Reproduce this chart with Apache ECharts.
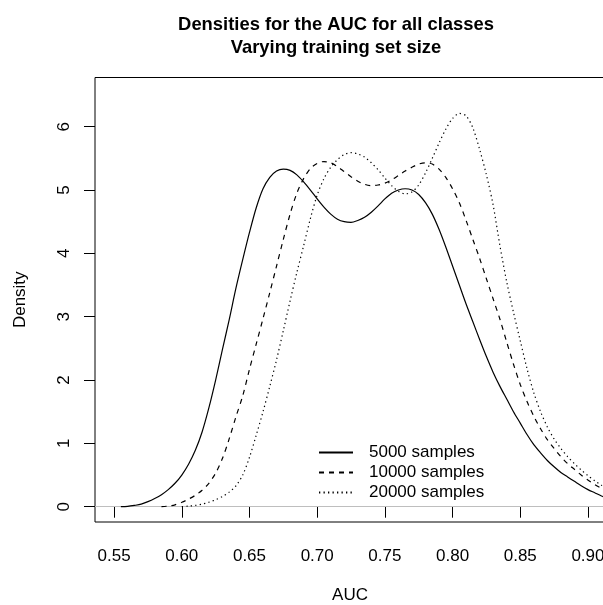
<!DOCTYPE html>
<html>
<head>
<meta charset="utf-8">
<script src="https://cdn.jsdelivr.net/npm/echarts@6/dist/echarts.min.js"></script>
<style>
html,body{margin:0;padding:0;background:#fff;}
#chart{width:603px;height:605px;}
</style>
</head>
<body>
<div id="chart"></div>
<script>
// ---- data ----
const titleText = "Densities for the AUC for all classes\nVarying training set size";
const seriesNames = ["5000 samples", "10000 samples", "20000 samples"];
const xTicks = [0.55, 0.60, 0.65, 0.70, 0.75, 0.80, 0.85, 0.90];
const xTickLabels = ["0.55", "0.60", "0.65", "0.70", "0.75", "0.80", "0.85", "0.90"];
const yTicks = [0, 1, 2, 3, 4, 5, 6];
const yTickLabels = ["0", "1", "2", "3", "4", "5", "6"];

const auc5000 = [0.555, 0.560, 0.565, 0.570, 0.575, 0.580, 0.585, 0.590, 0.595, 0.600,
  0.605, 0.610, 0.615, 0.620, 0.625, 0.630, 0.635, 0.640, 0.645, 0.650,
  0.655, 0.660, 0.665, 0.670, 0.675, 0.680, 0.685, 0.690, 0.695, 0.700,
  0.705, 0.710, 0.715, 0.720, 0.725, 0.730, 0.735, 0.740, 0.745, 0.750,
  0.755, 0.760, 0.765, 0.770, 0.775, 0.780, 0.785, 0.790, 0.795, 0.800,
  0.805, 0.810, 0.815, 0.820, 0.825, 0.830, 0.835, 0.840, 0.845, 0.850,
  0.855, 0.860, 0.865, 0.870, 0.875, 0.880, 0.885, 0.890, 0.895, 0.900,
  0.905, 0.910, 0.915];
const dens5000 = [0.00, 0.005, 0.02, 0.04, 0.08, 0.13, 0.19, 0.27, 0.37, 0.50,
  0.67, 0.89, 1.18, 1.56, 2.00, 2.48, 2.95, 3.45, 3.90, 4.33,
  4.72, 5.02, 5.20, 5.30, 5.33, 5.31, 5.24, 5.13, 5.00, 4.86,
  4.73, 4.62, 4.54, 4.50, 4.49, 4.52, 4.57, 4.65, 4.75, 4.86,
  4.95, 5.00, 5.02, 5.00, 4.93, 4.80, 4.62, 4.38, 4.10, 3.80,
  3.50, 3.20, 2.92, 2.64, 2.37, 2.12, 1.90, 1.70, 1.50, 1.32,
  1.14, 0.98, 0.85, 0.73, 0.63, 0.54, 0.47, 0.40, 0.33, 0.27,
  0.22, 0.17, 0.13];

const auc10000 = [0.585, 0.590, 0.595, 0.600, 0.605, 0.610, 0.615, 0.620, 0.625, 0.630,
  0.635, 0.640, 0.645, 0.650, 0.655, 0.660, 0.665, 0.670, 0.675, 0.680,
  0.685, 0.690, 0.695, 0.700, 0.705, 0.710, 0.715, 0.720, 0.725, 0.730,
  0.735, 0.740, 0.745, 0.750, 0.755, 0.760, 0.765, 0.770, 0.775, 0.780,
  0.785, 0.790, 0.795, 0.800, 0.805, 0.810, 0.815, 0.820, 0.825, 0.830,
  0.835, 0.840, 0.845, 0.850, 0.855, 0.860, 0.865, 0.870, 0.875, 0.880,
  0.885, 0.890, 0.895, 0.900, 0.905, 0.910, 0.915];
const dens10000 = [0.00, 0.01, 0.03, 0.07, 0.12, 0.18, 0.26, 0.37, 0.53, 0.76,
  1.07, 1.42, 1.75, 2.17, 2.57, 2.97, 3.38, 3.80, 4.22, 4.62,
  4.95, 5.18, 5.34, 5.42, 5.45, 5.43, 5.37, 5.29, 5.21, 5.14,
  5.09, 5.07, 5.08, 5.11, 5.16, 5.23, 5.30, 5.36, 5.41, 5.43,
  5.41, 5.33, 5.20, 5.02, 4.80, 4.52, 4.22, 3.92, 3.60, 3.28,
  2.96, 2.60, 2.25, 1.93, 1.66, 1.43, 1.23, 1.06, 0.92, 0.79,
  0.68, 0.59, 0.50, 0.42, 0.35, 0.29, 0.24];

const auc20000 = [0.600, 0.605, 0.610, 0.615, 0.620, 0.625, 0.630, 0.635, 0.640, 0.645,
  0.650, 0.655, 0.660, 0.665, 0.670, 0.675, 0.680, 0.685, 0.690, 0.695,
  0.700, 0.705, 0.710, 0.715, 0.720, 0.725, 0.730, 0.735, 0.740, 0.745,
  0.750, 0.755, 0.760, 0.765, 0.770, 0.775, 0.780, 0.785, 0.790, 0.795,
  0.800, 0.805, 0.810, 0.815, 0.820, 0.825, 0.830, 0.835, 0.840, 0.845,
  0.850, 0.855, 0.860, 0.865, 0.870, 0.875, 0.880, 0.885, 0.890, 0.895,
  0.900, 0.905, 0.910, 0.915];
const dens20000 = [0.00, 0.01, 0.02, 0.04, 0.07, 0.11, 0.16, 0.23, 0.33, 0.50,
  0.78, 1.13, 1.50, 1.90, 2.32, 2.78, 3.25, 3.70, 4.12, 4.55,
  4.92, 5.18, 5.36, 5.48, 5.56, 5.59, 5.57, 5.52, 5.43, 5.32,
  5.19, 5.07, 4.98, 4.94, 4.97, 5.08, 5.27, 5.50, 5.74, 5.96,
  6.13, 6.21, 6.17, 5.98, 5.64, 5.24, 4.76, 4.12, 3.55, 3.07,
  2.62, 2.18, 1.80, 1.50, 1.26, 1.07, 0.92, 0.79, 0.68, 0.58,
  0.49, 0.41, 0.34, 0.28];

const xMin = 0.5359, xMax = 0.9126;
const yMin = -0.2416, yMax = 6.777;

function pairs(xs, ys) { return xs.map((x, i) => [x, ys[i]]); }

const FONT = "Liberation Sans, Arial, Helvetica, sans-serif";
const chart = echarts.init(document.getElementById('chart'), null, {renderer: 'canvas'});

const lineTypes = ['solid', [5, 5], [1.3, 3.2]];
const dataSets = [pairs(auc5000, dens5000), pairs(auc10000, dens10000), pairs(auc20000, dens20000)];

const series = seriesNames.map((name, i) => {
  const s = {
    name: name,
    type: 'line',
    data: dataSets[i],
    smooth: 0.3,
    symbol: 'none',
    showSymbol: false,
    clip: true,
    lineStyle: {color: '#000', width: 1.2, type: lineTypes[i]},
    itemStyle: {color: '#000'},
    z: 3
  };
  if (i === 0) {
    s.markLine = {
      silent: true,
      symbol: ['none', 'none'],
      label: {show: false},
      lineStyle: {color: '#bebebe', type: 'solid', width: 1.2},
      data: [{yAxis: 0}],
      z: 1
    };
  }
  return s;
});

chart.setOption({
  animation: false,
  backgroundColor: '#fff',
  textStyle: {fontFamily: FONT},
  title: {
    text: titleText,
    left: 331,
    top: 8,
    textAlign: 'center',
    textStyle: {fontFamily: FONT, fontWeight: 'bold', fontSize: 18.4, color: '#000', lineHeight: 23.3}
  },
  legend: {
    orient: 'vertical',
    left: 318,
    top: 444,
    padding: 0,
    itemGap: 3,
    itemWidth: 34,
    itemHeight: 14,
    data: seriesNames,
    itemStyle: {opacity: 0},
    textStyle: {fontFamily: FONT, fontSize: 17, color: '#000', padding: [0, 0, 0, 11]}
  },
  grid: {
    left: 95, top: 77.5, right: -2, bottom: 83,
    containLabel: false,
    outerBoundsMode: 'none',
    show: true, borderColor: '#000', borderWidth: 1, backgroundColor: 'transparent'
  },
  xAxis: {
    type: 'value',
    min: xMin, max: xMax,
    name: 'AUC',
    nameLocation: 'middle',
    nameGap: 65,
    nameTextStyle: {fontFamily: FONT, fontSize: 17, color: '#000'},
    axisLine: {show: false},
    splitLine: {show: false},
    axisTick: {show: true, length: 11, inside: false, lineStyle: {color: '#000'}, customValues: xTicks},
    axisLabel: {
      fontFamily: FONT, fontSize: 17, color: '#000', margin: 26,
      customValues: xTicks,
      formatter: v => { const i = xTicks.findIndex(t => Math.abs(t - v) < 1e-9); return i >= 0 ? xTickLabels[i] : ''; }
    }
  },
  yAxis: {
    type: 'value',
    min: yMin, max: yMax,
    name: 'Density',
    nameLocation: 'middle',
    nameGap: 66,
    nameRotate: 90,
    nameTextStyle: {fontFamily: FONT, fontSize: 17, color: '#000'},
    axisLine: {show: false},
    splitLine: {show: false},
    axisTick: {show: true, length: 11, inside: false, lineStyle: {color: '#000'}, customValues: yTicks},
    axisLabel: {
      fontFamily: FONT, fontSize: 17, color: '#000', margin: 22, rotate: 90,
      customValues: yTicks,
      formatter: v => { const i = yTicks.findIndex(t => Math.abs(t - v) < 1e-9); return i >= 0 ? yTickLabels[i] : ''; }
    }
  },
  series: series
});
</script>
</body>
</html>
